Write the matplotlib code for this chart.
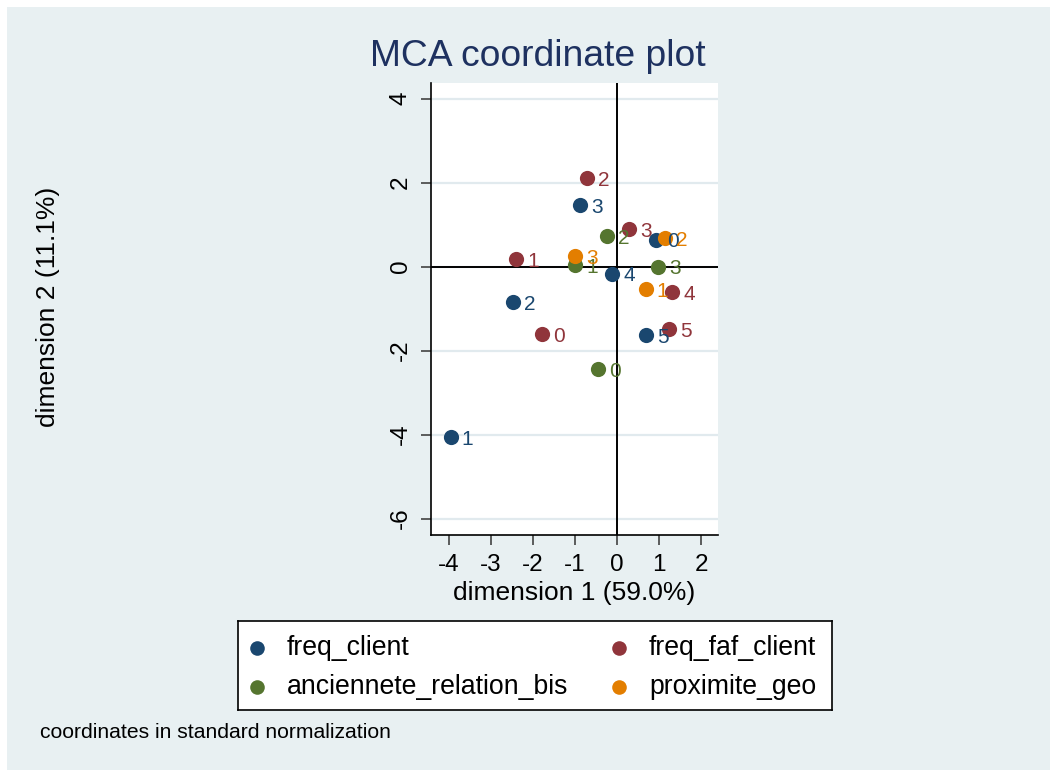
import matplotlib
matplotlib.use("Agg")
import matplotlib.pyplot as plt
from matplotlib.patches import Rectangle

plt.rcParams['font.family'] = ['Liberation Sans', 'DejaVu Sans']
plt.rcParams['axes.unicode_minus'] = False

# MCA coordinates (dimension 1, dimension 2) per category
freq_client_lab = ["0", "1", "2", "3", "4", "5"]
freq_client_x = [0.93, -3.95, -2.48, -0.87, -0.11, 0.69]
freq_client_y = [0.64, -4.06, -0.85, 1.46, -0.17, -1.63]

freq_faf_lab = ["0", "1", "2", "3", "4", "5"]
freq_faf_x = [-1.79, -2.40, -0.71, 0.29, 1.31, 1.24]
freq_faf_y = [-1.61, 0.18, 2.11, 0.89, -0.61, -1.49]

anc_lab = ["0", "1", "2", "3"]
anc_x = [-0.46, -0.99, -0.23, 0.97]
anc_y = [-2.44, 0.03, 0.72, 0.0]

prox_lab = ["1", "2", "3"]
prox_x = [0.68, 1.13, -1.00]
prox_y = [-0.54, 0.68, 0.24]

series = [
    ("freq_client", freq_client_x, freq_client_y, freq_client_lab, "#1a476f"),
    ("freq_faf_client", freq_faf_x, freq_faf_y, freq_faf_lab, "#90353b"),
    ("anciennete_relation_bis", anc_x, anc_y, anc_lab, "#55752f"),
    ("proximite_geo", prox_x, prox_y, prox_lab, "#e37e00"),
]

W, H = 1050, 770
bg = "#E8F0F2"
fig = plt.figure(figsize=(10.5, 7.7), dpi=100)
fig.patch.set_facecolor("white")
fig.patches.append(Rectangle((7 / W, 0), 1, 1 - 7 / H, transform=fig.transFigure,
                             facecolor=bg, edgecolor="none", zorder=-10))

# plot region in pixels
l, r, t, b = 431, 718, 83, 535
ax = fig.add_axes([l / W, 1 - b / H, (r - l) / W, (b - t) / H])
ax.set_facecolor("white")
ax.set_xlim(-4.418, 2.399)
ax.set_ylim(-6.39, 4.37)

for s in ["top", "right"]:
    ax.spines[s].set_visible(False)
for s in ["left", "bottom"]:
    ax.spines[s].set_linewidth(1.2)

ax.set_xticks([-4, -3, -2, -1, 0, 1, 2])
ax.set_yticks([-6, -4, -2, 0, 2, 4])
ax.tick_params(axis="both", labelsize=17.5, length=7, width=1.1, color="#333333", pad=7)
for lab in ax.get_yticklabels():
    lab.set_rotation(90)
    lab.set_va("center")

ax.grid(axis="y", color="#E1EAEE", lw=1.6)
ax.set_axisbelow(True)
ax.axhline(0, color="black", lw=1.4, zorder=1)
ax.axvline(0, color="black", lw=1.4, zorder=1)

for name, xs, ys, labs, col in series:
    ax.scatter(xs, ys, s=120, color=col, zorder=3, linewidths=0)
    for x, y, lb in zip(xs, ys, labs):
        ax.annotate(lb, (x, y), xytext=(8, -1.5), textcoords="offset points",
                    color=col, fontsize=15, va="center", ha="left", zorder=4)

ax.set_xlabel("dimension 1 (59.0%)", fontsize=19, labelpad=3)
fig.text(48 / W, 1 - 307 / H, "dimension 2 (11.1%)", rotation=90, fontsize=19,
         ha="center", va="center")
fig.text(538 / W, 1 - 57 / H, "MCA coordinate plot", fontsize=26.8, color="#1E3160",
         ha="center", va="center")

# legend
lax = fig.add_axes([238 / W, 1 - 710 / H, (832 - 238) / W, (710 - 621) / H])
lax.set_xlim(238, 832)
lax.set_ylim(710, 621)
lax.set_xticks([])
lax.set_yticks([])
lax.set_facecolor("white")
for s in lax.spines.values():
    s.set_linewidth(1.2)
pos = [(257, 648), (619, 648), (257, 687), (619, 687)]
for (name, xs, ys, labs, col), (px, py) in zip(series, pos):
    lax.plot(px, py, "o", color=col, markersize=10.5, markeredgewidth=0)
    lax.text(px + 30, py, name, fontsize=19.2, va="center", ha="left")

fig.text(40 / W, 1 - 733 / H, "coordinates in standard normalization", fontsize=15.2,
         ha="left", va="center")

fig.savefig("out.png", dpi=100, facecolor=fig.get_facecolor())
